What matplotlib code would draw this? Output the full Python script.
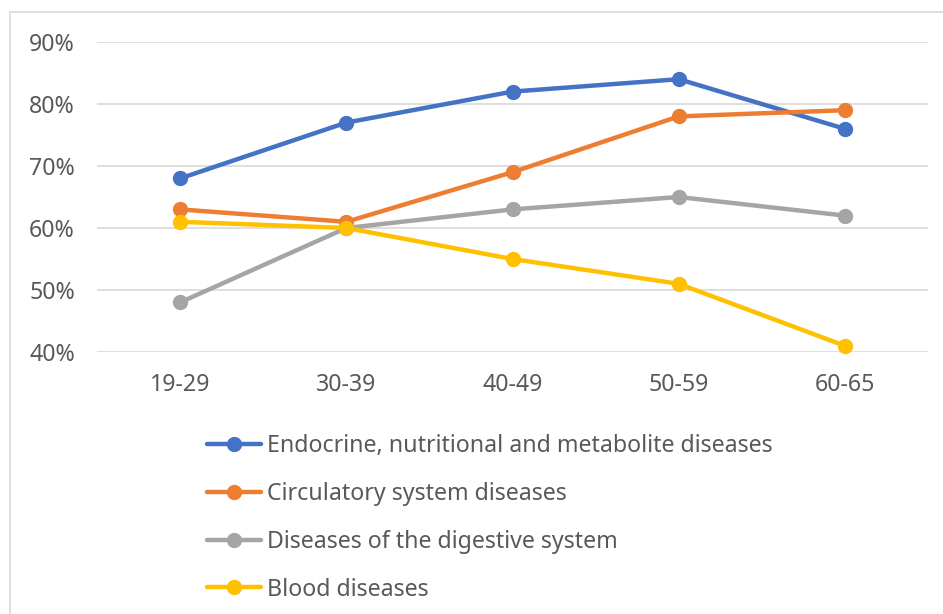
import matplotlib.pyplot as plt
from matplotlib.patches import Rectangle
from matplotlib.ticker import PercentFormatter

plt.rcParams['font.family'] = ['Noto Sans', 'DejaVu Sans']

age_groups = ['19-29', '30-39', '40-49', '50-59', '60-65']
endocrine = [0.68, 0.77, 0.82, 0.84, 0.76]
circulatory = [0.63, 0.61, 0.69, 0.78, 0.79]
digestive = [0.48, 0.60, 0.63, 0.65, 0.62]
blood = [0.61, 0.60, 0.55, 0.51, 0.41]

series = [
    ('Endocrine, nutritional and metabolite diseases', endocrine, '#4472C4'),
    ('Circulatory system diseases', circulatory, '#ED7D31'),
    ('Diseases of the digestive system', digestive, '#A5A5A5'),
    ('Blood diseases', blood, '#FFC000'),
]

W, H = 943, 614
fs = 16.7
fig = plt.figure(figsize=(W / 100, H / 100), dpi=100)
fig.patches.append(Rectangle((10 / W, -0.1), 1.1, 1 - 12 / H + 0.1,
                             transform=fig.transFigure, fill=False,
                             edgecolor='#D9D9D9', linewidth=1.2))

ax = fig.add_axes([97 / W, 1 - 352 / H, (928 - 97) / W, 310 / H])
x = range(len(age_groups))
for name, vals, col in series:
    ax.plot(x, vals, color=col, linewidth=3.2, marker='o', markersize=10,
            label=name, clip_on=False, solid_capstyle='round')

ax.set_xlim(-0.5, len(age_groups) - 0.5)
ax.set_ylim(0.4, 0.9)
ax.set_yticks([0.4, 0.5, 0.6, 0.7, 0.8, 0.9])
ax.yaxis.set_major_formatter(PercentFormatter(1.0, decimals=0))
ax.set_xticks(list(x))
ax.set_xticklabels(age_groups)
ax.tick_params(length=0, labelsize=fs, colors='#595959')
ax.tick_params(axis='x', pad=15)
ax.tick_params(axis='y', pad=16)
ax.grid(axis='y', color='#D9D9D9', linewidth=1.2)
ax.set_axisbelow(True)
for s in ax.spines.values():
    s.set_visible(False)

fig.legend(loc='upper left', bbox_to_anchor=(186 / W, 1 - 413 / H),
           frameon=False, fontsize=fs, labelcolor='#595959',
           handlelength=2.33, handletextpad=0.25, labelspacing=1.03)

plt.savefig('out.png', dpi=100)
